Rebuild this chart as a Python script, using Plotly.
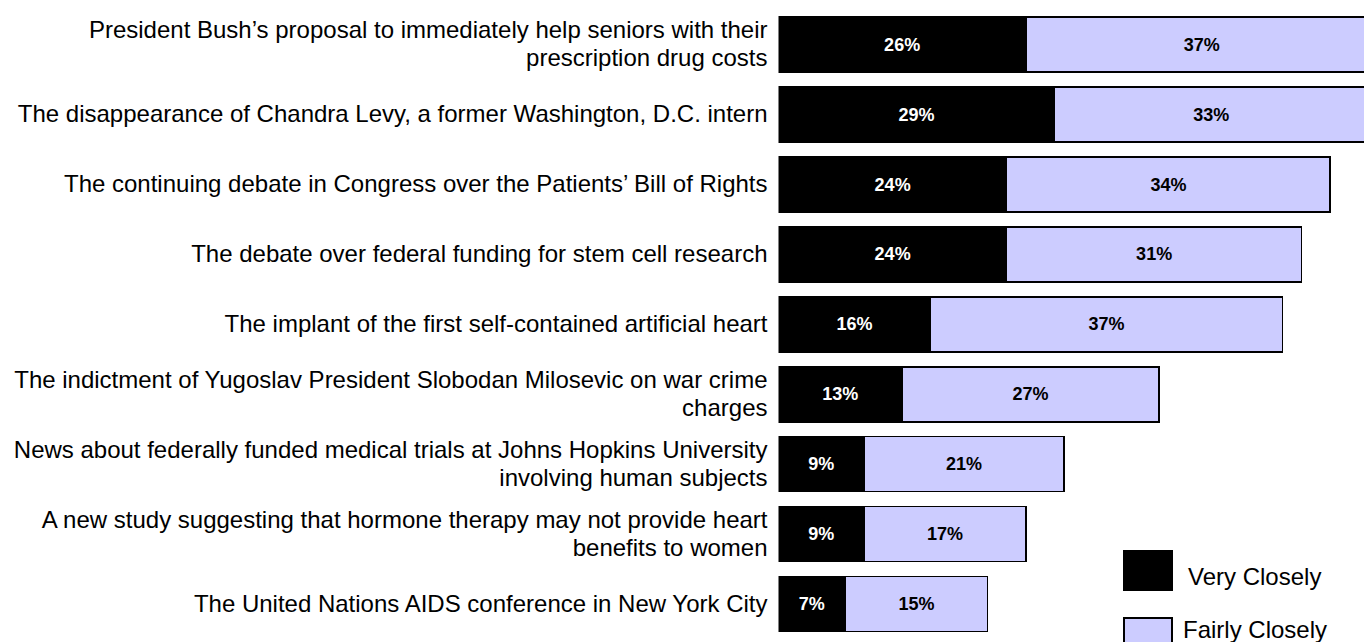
import plotly.graph_objects as go

# ---- data -------------------------------------------------------------
categories = [
    "President Bush’s proposal to immediately help seniors with their<br>prescription drug costs",
    "The disappearance of Chandra Levy, a former Washington, D.C. intern",
    "The continuing debate in Congress over the Patients’ Bill of Rights",
    "The debate over federal funding for stem cell research",
    "The implant of the first self-contained artificial heart",
    "The indictment of Yugoslav President Slobodan Milosevic on war crime<br>charges",
    "News about federally funded medical trials at Johns Hopkins University<br>involving human subjects",
    "A new study suggesting that hormone therapy may not provide heart<br>benefits to women",
    "The United Nations AIDS conference in New York City",
]
very_closely = [26, 29, 24, 24, 16, 13, 9, 9, 7]
fairly_closely = [37, 33, 34, 31, 37, 27, 21, 17, 15]
series_names = ["Very Closely", "Fairly Closely"]

# ---- style ------------------------------------------------------------
FONT = "Liberation Sans, Arial, sans-serif"
W, H = 1372, 642
BLACK = "#000000"
LAV = "#CCCCFF"

fig = go.Figure()
fig.add_trace(go.Bar(
    y=categories, x=very_closely, orientation="h", name=series_names[0],
    marker=dict(color=BLACK, line=dict(color="#000000", width=1.5)),
    texttemplate="%{x}%", textposition="inside", insidetextanchor="middle",
    textfont=dict(family=FONT, size=18, color="white", weight="bold"),
    constraintext="none", showlegend=False,
))
fig.add_trace(go.Bar(
    y=categories, x=fairly_closely, orientation="h", name=series_names[1],
    marker=dict(color=LAV, line=dict(color="#000000", width=1.5)),
    texttemplate="%{x}%", textposition="inside", insidetextanchor="middle",
    textfont=dict(family=FONT, size=18, color="black", weight="bold"),
    constraintext="none", showlegend=False,
))

# tick labels: 24px text with compact line spacing
tick_text = [
    "<br>".join('<span style="font-size:24px">%s</span>' % ln for ln in c.split("<br>"))
    for c in categories
]

# legend drawn as boxes + text (large squares like the original)
annotations = []
shapes = []
legend_items = [
    (series_names[0], BLACK, (582, 543), 1178, 568),
    (series_names[1], LAV, (650, 610), 1173, 621),
]
for name, col, (yb, yt), tx, ty in legend_items:
    shapes.append(dict(
        type="rect", xref="paper", yref="paper",
        x0=1116 / W, x1=1164 / W, y0=1 - yb / H, y1=1 - yt / H,
        fillcolor=col, line=dict(color="black", width=2),
    ))
    annotations.append(dict(
        x=tx / W, xref="paper", xanchor="left",
        y=1 - ty / H, yref="paper", yanchor="middle",
        text=name, showarrow=False,
        font=dict(family=FONT, size=24, color="black"),
    ))

fig.update_layout(
    width=W, height=H,
    barmode="stack", bargap=0.213,
    margin=dict(l=0, r=0, t=0, b=0),
    paper_bgcolor="white", plot_bgcolor="white",
    xaxis=dict(domain=[770.5 / W, 1], range=[0, 63.25], visible=False,
               fixedrange=True),
    yaxis=dict(domain=[1 - 631 / H, 1 - 1.7 / H], range=[8.5, -0.5],
               tickmode="array", tickvals=categories, ticktext=tick_text,
               tickfont=dict(family=FONT, size=21.5, color="black"),
               ticks="", ticklabelstandoff=10, automargin=False,
               showgrid=False, zeroline=False, showline=False,
               fixedrange=True),
    annotations=annotations, shapes=shapes,
    font=dict(family=FONT),
)

fig.write_html("out.html")
